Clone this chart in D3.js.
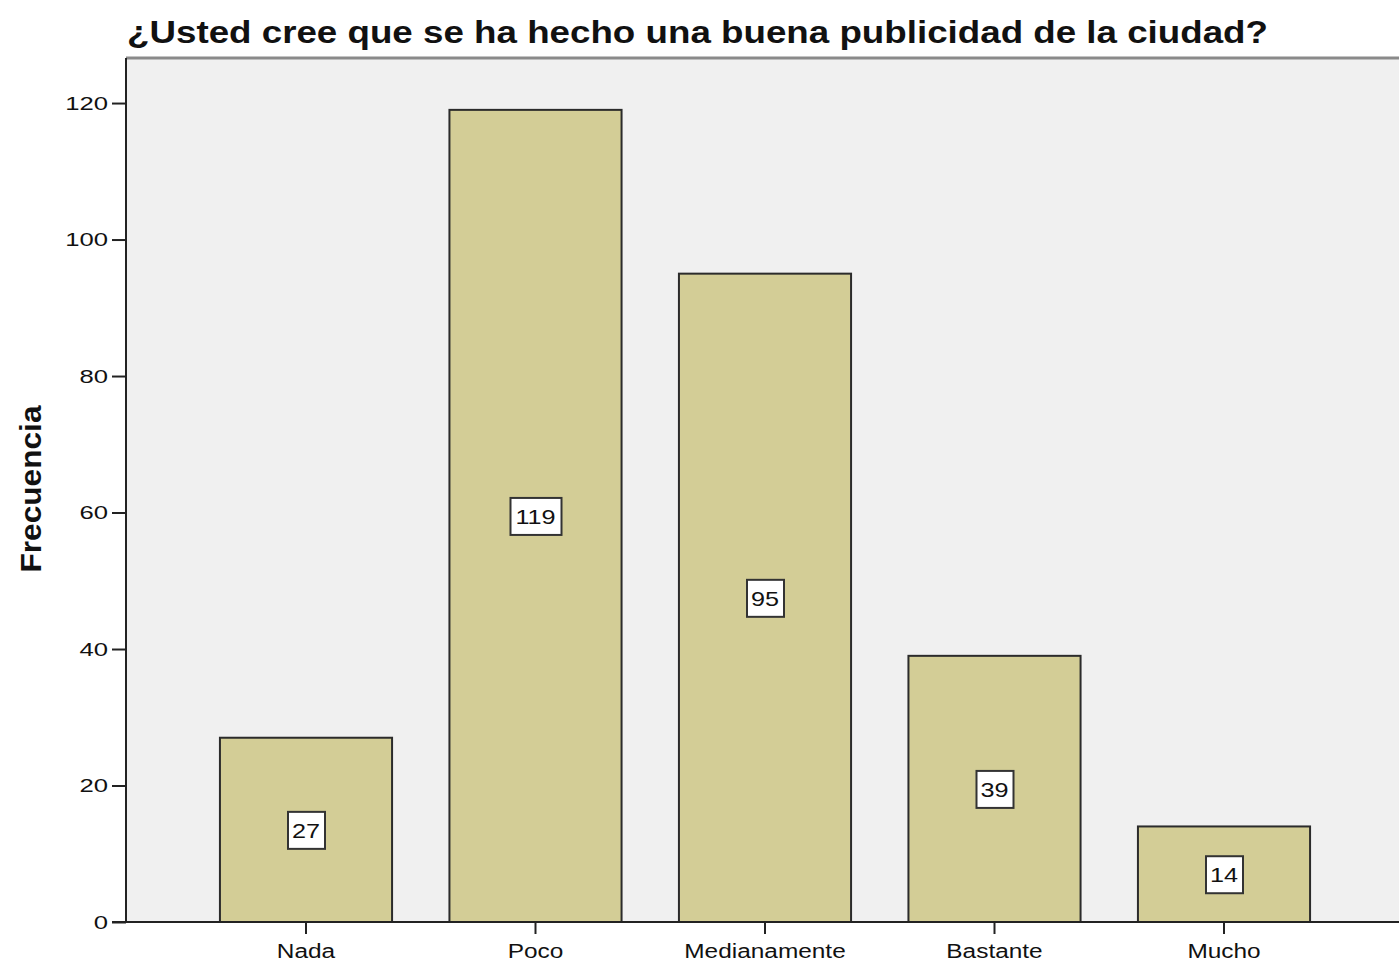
<!DOCTYPE html>
<html>
<head>
<meta charset="utf-8">
<script src="https://cdn.jsdelivr.net/npm/d3@7"></script>
<style>
	body { margin: 0; background: #fff; }
	text { font-family: "Liberation Sans", Arial, sans-serif; fill: #111; }
</style>
</head>
<body>
<div id="chart"></div>
<script>
var titleText = "¿Usted cree que se ha hecho una buena publicidad de la ciudad?";
var yLabel = "Frecuencia";
var categories = ["Nada", "Poco", "Medianamente", "Bastante", "Mucho"];
var counts = [27, 119, 95, 39, 14];
var yTicks = [0, 20, 40, 60, 80, 100, 120];

var width = 1399;
var height = 965;
var plotLeft = 126;
var plotTop = 58;
var plotBottom = 922;

var barFill = "#d3cd96";
var plotBg = "#f0f0f0";

var svg = d3.select("#chart").append("svg")
	.attr("width", width)
	.attr("height", height);

// the source picture is wider than it is tall, so the text is stretched sideways
function stretch(sel, factor) {
	sel.each(function() {
		var w = this.getComputedTextLength();
		d3.select(this)
			.attr("textLength", w * factor)
			.attr("lengthAdjust", "spacingAndGlyphs");
	});
}

/* Scales */
var xScale = d3.scaleBand()
	.domain(categories)
	.range([191.25, 1338.75])
	.paddingInner(0.25)
	.paddingOuter(0.125);

var yScale = d3.scaleLinear()
	.domain([0, 126.6])
	.range([plotBottom, plotTop]);

/* Plot background */
svg.append("rect")
	.attr("x", plotLeft)
	.attr("y", plotTop)
	.attr("width", width - plotLeft)
	.attr("height", plotBottom - plotTop)
	.attr("fill", plotBg);

// top border of the frame
svg.append("line")
	.attr("x1", plotLeft).attr("x2", width)
	.attr("y1", plotTop).attr("y2", plotTop)
	.attr("stroke", "#8a8a8a")
	.attr("stroke-width", 3);

/* Bars */
svg.append("g").selectAll("rect")
	.data(counts).enter()
	.append("rect")
	.attr("x", (d, i) => xScale(categories[i]))
	.attr("y", d => yScale(d))
	.attr("width", xScale.bandwidth())
	.attr("height", d => yScale(0) - yScale(d))
	.attr("fill", barFill)
	.attr("stroke", "#2b2b2b")
	.attr("stroke-width", 2);

/* Value boxes */
var labels = svg.append("g").selectAll("g")
	.data(counts).enter()
	.append("g")
	.attr("transform", (d, i) => `translate(${xScale(categories[i]) + xScale.bandwidth() / 2}, ${yScale(d / 2)})`);

labels.append("rect")
	.attr("x", d => String(d).length > 2 ? -25 : -18)
	.attr("y", -18)
	.attr("width", d => String(d).length > 2 ? 51 : 37)
	.attr("height", 37)
	.attr("fill", "#fff")
	.attr("stroke", "#333")
	.attr("stroke-width", 2);

labels.append("text")
	.attr("text-anchor", "middle")
	.attr("dy", "0.38em")
	.style("font-size", "21px")
	.text(d => d)
	.call(stretch, 1.2);

/* Axes */
var yAxis = d3.axisLeft(yScale).tickValues(yTicks).tickSize(14).tickPadding(4);
var xAxis = d3.axisBottom(xScale).tickSize(12).tickPadding(10);

var gy = svg.append("g")
	.attr("transform", `translate(${plotLeft}, 0)`)
	.call(yAxis);
gy.select(".domain").attr("d", `M0,${plotTop}V${plotBottom}`).attr("stroke", "#222").attr("stroke-width", 2);
gy.selectAll(".tick line").attr("stroke", "#222").attr("stroke-width", 2);
gy.selectAll(".tick text").style("font-size", "19px").attr("fill", "#222").call(stretch, 1.35);

var gx = svg.append("g")
	.attr("transform", `translate(0, ${plotBottom})`)
	.call(xAxis);
gx.select(".domain").attr("d", `M${plotLeft - 14},0H${width}`).attr("stroke", "#222").attr("stroke-width", 2);
gx.selectAll(".tick line").attr("stroke", "#222").attr("stroke-width", 2);
gx.selectAll(".tick text").style("font-size", "20px").attr("fill", "#222").call(stretch, 1.22);

/* Titles */
svg.append("text")
	.attr("x", 127)
	.attr("y", 43)
	.style("font-size", "32px")
	.style("font-weight", "bold")
	.text(titleText)
	.attr("textLength", 1141)
	.attr("lengthAdjust", "spacingAndGlyphs");

svg.append("text")
	.attr("transform", "translate(41, 489) rotate(-90)")
	.attr("text-anchor", "middle")
	.style("font-size", "30px")
	.style("font-weight", "bold")
	.text(yLabel)
	.attr("textLength", 167)
	.attr("lengthAdjust", "spacingAndGlyphs");
</script>
</body>
</html>
